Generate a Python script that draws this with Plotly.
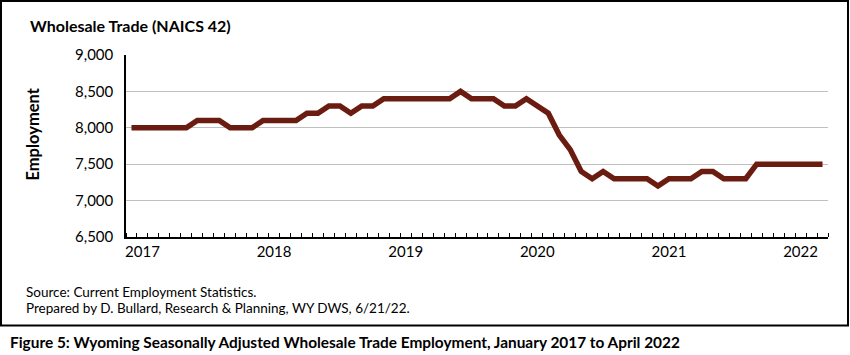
import plotly.graph_objects as go

# Monthly employment, January 2017 to April 2022
years = [2017, 2018, 2019, 2020, 2021, 2022]
month_names = ["Jan", "Feb", "Mar", "Apr", "May", "Jun", "Jul", "Aug", "Sep", "Oct", "Nov", "Dec"]
months = [f"{m} {y}" for y in years for m in month_names][:64]

employment = [
    8000, 8000, 8000, 8000, 8000, 8000, 8100, 8100, 8100, 8000, 8000, 8000,  # 2017
    8100, 8100, 8100, 8100, 8200, 8200, 8300, 8300, 8200, 8300, 8300, 8400,  # 2018
    8400, 8400, 8400, 8400, 8400, 8400, 8500, 8400, 8400, 8400, 8300, 8300,  # 2019
    8400, 8300, 8200, 7900, 7700, 7400, 7300, 7400, 7300, 7300, 7300, 7300,  # 2020
    7200, 7300, 7300, 7300, 7400, 7400, 7300, 7300, 7300, 7500, 7500, 7500,  # 2021
    7500, 7500, 7500, 7500,                                                  # 2022
]
year_labels = ["2017", "2018", "2019", "2020", "2021", "2022"]
y_ticks = [6500, 7000, 7500, 8000, 8500, 9000]

FONT = "Lato"
W, H = 850, 355
L, R, T, B = 126, 22, 55, 118
PW, PH = W - L - R, H - T - B


def px(x):
    return (x - L) / PW


def py(y):
    return (H - B - y) / PH


xi = list(range(len(employment)))
fig = go.Figure(go.Scatter(
    x=xi, y=employment, mode="lines", text=months,
    line=dict(color="#6B1C10", width=5.5),
    hovertemplate="%{text}: %{y:,}<extra></extra>",
))

fig.update_layout(
    width=W, height=H,
    margin=dict(l=L, r=R, t=T, b=B),
    paper_bgcolor="white", plot_bgcolor="white",
    showlegend=False,
    font=dict(family=FONT, color="black"),
    xaxis=dict(
        range=[-0.5, len(employment) - 0.5],
        tickmode="array", tickvals=[12 * k + 1 for k in range(len(year_labels))],
        ticktext=year_labels, ticks="", showgrid=False, zeroline=False,
        showline=True, linecolor="black", linewidth=1.5,
        tickfont=dict(size=15, family=FONT, color="black"),
        minor=dict(ticks="inside", ticklen=4, tickcolor="black", tickwidth=1,
                   tickmode="linear", tick0=-0.5, dtick=1, showgrid=False),
    ),
    yaxis=dict(
        range=[6500, 9000], tickmode="array", tickvals=y_ticks,
        tickformat=",", ticks="", showgrid=True, gridcolor="#BFBFBF", gridwidth=1,
        zeroline=False, showline=True, linecolor="black", linewidth=1.5,
        tickfont=dict(size=15, family=FONT, color="black"), ticklabelstandoff=8,
    ),
)

fig.add_shape(type="rect", xref="paper", yref="paper",
              x0=px(1), x1=px(848), y0=py(1), y1=py(325.5),
              line=dict(color="black", width=2), fillcolor="rgba(0,0,0,0)", layer="above")

anns = [
    dict(text="<b>Wholesale Trade (NAICS 42)</b>", x=px(28), y=py(26), size=16, xanchor="left"),
    dict(text="Source: Current Employment Statistics.", x=px(24), y=py(292), size=13.5, xanchor="left"),
    dict(text="Prepared by D. Bullard, Research &amp; Planning, WY DWS, 6/21/22.", x=px(24), y=py(307.5), size=13.5, xanchor="left"),
    dict(text="<b>Figure 5: Wyoming Seasonally Adjusted Wholesale Trade Employment, January 2017 to April 2022</b>",
         x=px(8), y=py(341.5), size=15.4, xanchor="left"),
]
for a in anns:
    fig.add_annotation(text=a["text"], x=a["x"], y=a["y"], xref="paper", yref="paper",
                       xanchor=a["xanchor"], yanchor="middle", showarrow=False,
                       font=dict(size=a["size"], family=FONT, color="black"))

fig.add_annotation(text="<b>Employment</b>", x=px(32.5), y=py(134), xref="paper", yref="paper",
                   textangle=-90, showarrow=False, xanchor="center", yanchor="middle",
                   font=dict(size=16.5, family=FONT, color="black"))

fig.write_html("out.html", config={"displayModeBar": False},
               post_script="document.body.style.margin='0';document.body.style.overflow='hidden';")
